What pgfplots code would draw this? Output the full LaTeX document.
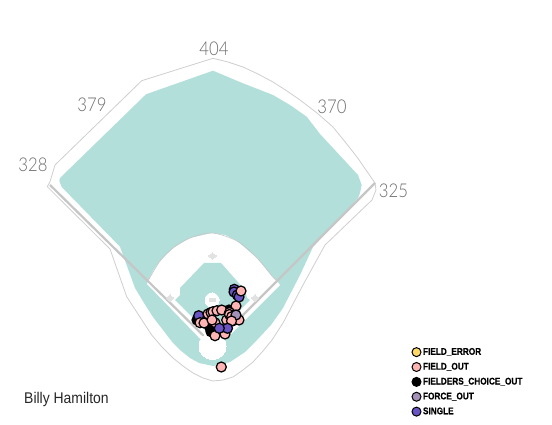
\documentclass[border=0pt]{standalone}
\usepackage{pgfplots}
\usepackage{fontspec}
\pgfplotsset{compat=1.18}
\setmainfont{Liberation Sans}
\newfontfamily\namefont[FakeStretch=0.90]{Liberation Sans}
\newfontfamily\legfont[FakeStretch=0.85,BoldFeatures={FakeBold=0.5}]{Liberation Sans}
\newfontfamily\distfont[FakeStretch=0.88]{Lato Light}
\definecolor{Wall}{HTML}{CFCFCF}
\definecolor{Grass}{HTML}{B3DFDB}
\definecolor{Foul}{HTML}{C6C6C6}
\definecolor{Base}{HTML}{E2E2E2}
\definecolor{Err}{HTML}{FFD966}
\definecolor{Out}{HTML}{FFB4B4}
\definecolor{Force}{HTML}{A391B8}
\definecolor{Single}{HTML}{6A54C4}
\pgfplotsset{hit/.style={only marks,mark=*,mark size=5pt,line width=1.25pt,
  mark options={draw=black,fill=#1},forget plot},
  shape/.style={only marks,mark options={draw=#1,fill=#1,line width=0pt},forget plot},
  legmark/.style={only marks,mark=*,mark size=4.5pt,line width=1pt,mark options={draw=black,fill=#1}}}
\tikzset{dist/.style={font=\distfont\fontsize{19}{19}\selectfont,text=black!58}}
\begin{document}
\begin{tikzpicture}
\path[use as bounding box] (0,0) rectangle (552pt,425pt);
\begin{axis}[
  at={(0,0)},anchor=south west,scale only axis,width=552pt,height=425pt,
  xmin=0,xmax=552,ymin=0,ymax=425,y dir=reverse,hide axis,clip=false,
  legend cell align=left,
  legend style={at={(axis cs:412,346)},anchor=north west,draw=none,fill=none,
    font=\legfont\bfseries\fontsize{9.7}{11}\selectfont,inner sep=0pt,outer sep=0pt,
    row sep=2.6pt,/tikz/every even column/.append style={column sep=4.5pt}}]
% outer wall
\addplot[fill=white,draw=Wall,line width=0.8pt,line join=round,forget plot] coordinates {
 (213,58.3) (228,62) (243,67) (258,74) (273,82) (287,91) (300,100) (317,113) (333,127) (346,143)
 (357,157) (366,170) (375,183) (376,190) (372,200)
 (325,245) (303,285) (283,323) (272,340) (263,351) (253,362) (243,370) (233,377) (223,380) (213,381)
 (203,378) (193,373) (183,366) (173,358) (162,347)
 (151.7,335) (126.7,296.7) (110,249) (47.3,186.7) (50,181.7) (55,165) (141.7,80.7)} -- cycle;
% grass
\addplot[fill=Grass,draw=none,forget plot] coordinates {
 (213,70.7) (243,83.3) (273,95) (290,105) (306.7,116.7) (320,134) (333,148) (358,175) (361.7,185) (360,193)
 (358,198) (313,247) (300,275) (283,308) (271,325) (257,340) (245,352) (230,362) (220,365) (213,366) (199,363) (190,358)
 (180,350) (173,343) (163,330) (153,317) (144,303) (135,288) (120,246.7) (61.7,187) (59.3,181) (60,178) (146,94.3)} -- cycle;
% infield grass
\addplot[fill=white,draw=none,forget plot] coordinates {
 (147,284) (148,281) (153,271) (160,261) (173,248) (190,238) (212,233) (225,235) (237,241)
 (257,258) (272,276) (277,281) (280,285) (213,352)} -- cycle;
\addplot[draw=Foul,line width=0.6pt,smooth,forget plot] coordinates {
 (148,281) (160,261) (173,248) (190,238) (212,233) (237,241) (257,258) (272,276) (277,281)};
% dirt
\addplot[fill=Grass,draw=none,forget plot] coordinates {
 (204,263) (221,263) (245,290) (247,298) (250,300) (213,338) (175,300) (180,295) (180,288)} -- cycle;
% home circle, mound
\addplot[shape=white,mark=*,mark size=13.5pt] coordinates {(212.5,346)};
\addplot[shape=white,mark=*,mark size=7pt] coordinates {(212,300)};
\addplot[only marks,mark=square*,mark size=3pt,mark options={draw=Base,fill=Base,yscale=0.35,line width=0pt},forget plot]
 coordinates {(212,300)};
\addplot[only marks,mark=diamond*,mark size=3.4pt,mark options={draw=Base,fill=Base,xscale=1.4,line width=0pt},forget plot]
 coordinates {(212.5,256) (170,298) (255,298)};
% foul lines
\addplot[draw=Foul,line width=2.2pt,forget plot] coordinates {(50,185) (213,345) (375,183)};
% batted balls
\addplot[hit=black] coordinates {(197,320) (211,331.7) (213.3,330) (210,328) (221,331) (229,310)};
\addplot[hit=Single] coordinates {(234.3,289.3) (234,292) (237.3,295) (239,297) (198.7,315.7)};
\addplot[hit=Out] coordinates {(241,291) (236,306) (221.3,367) (200,322.7) (204,323)
 (208,314) (211,312.5) (213,311.7) (217,310.7) (221.7,310) (215,322.7) (212,320)
 (226.7,320) (229.5,312.5) (229.5,314.5) (231.7,316.7) (233,320.7) (239,320)};
\addplot[hit=Force] coordinates {(236,315)};
\addplot[hit=Out] coordinates {(215,335.7) (225,334) (231.5,321)};
\addplot[hit=Single] coordinates {(227.5,328.3) (219.3,328.3)};
% labels
\node[dist] at (axis cs:214,49) {404};
\node[dist] at (axis cs:92,105) {379};
\node[dist] at (axis cs:332,106.5) {370};
\node[dist] at (axis cs:33,165) {328};
\node[dist] at (axis cs:393.5,191) {325};
\node[font=\namefont\fontsize{15.5}{16}\selectfont,text=black!85,anchor=west,inner sep=0pt] at (axis cs:24,399) {Billy Hamilton};
% legend
\addlegendimage{legmark=Err}
\addlegendentry{FIELD\_ERROR}
\addlegendimage{legmark=Out}
\addlegendentry{FIELD\_OUT}
\addlegendimage{legmark=black}
\addlegendentry{FIELDERS\_CHOICE\_OUT}
\addlegendimage{legmark=Force}
\addlegendentry{FORCE\_OUT}
\addlegendimage{legmark=Single}
\addlegendentry{SINGLE}
\end{axis}
\end{tikzpicture}
\end{document}
